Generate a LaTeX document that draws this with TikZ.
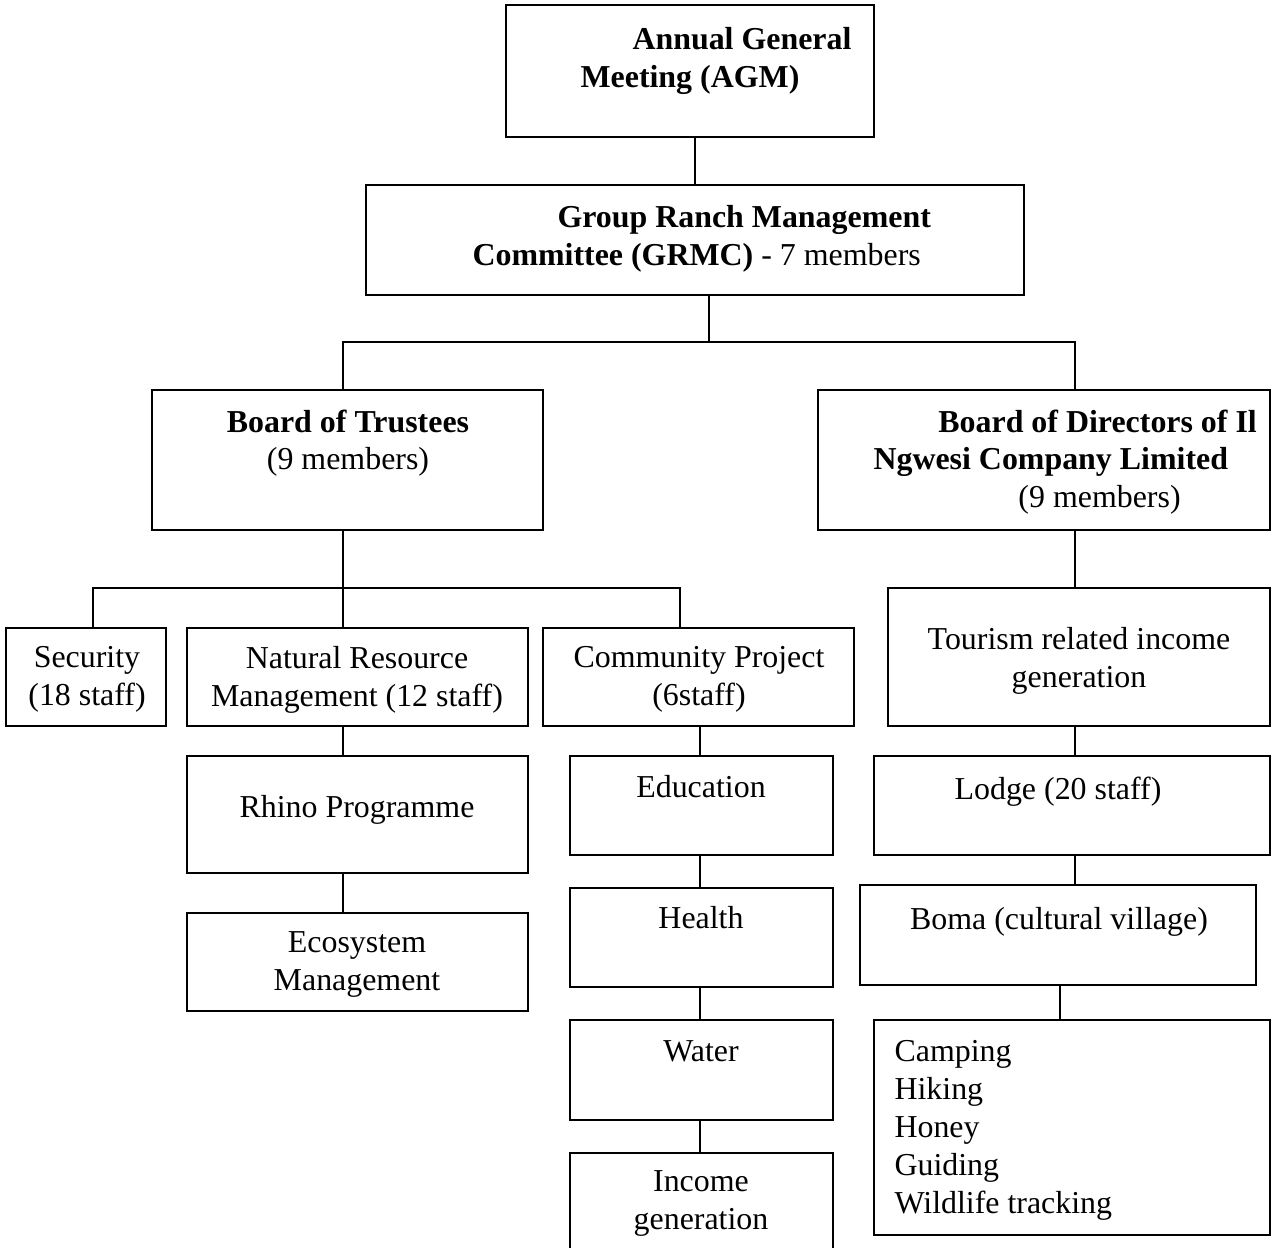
\documentclass[tikz,border=0pt]{standalone}
\usepackage{fontspec}
\setmainfont{Liberation Serif}

\begin{document}
\begin{tikzpicture}[x=0.3636pt,y=-0.3636pt,
  box/.style 2 args={draw,line width=0.8pt,inner sep=0pt,minimum width=#1*0.3636pt,minimum height=#2*0.3636pt},
  txt/.style={anchor=north,inner sep=0pt,align=center,font=\fontsize{11.6}{13.8}\selectfont},
  link/.style={line width=0.8pt}]
  \useasboundingbox (0,0) rectangle (1283,1247);
  % boxes
  \node[box={368}{132}] (agm) at (690,71) {};
  \node[box={658}{110}] (grmc) at (695,240) {};
  \node[box={391}{140}] (trust) at (347.5,460) {};
  \node[box={452}{140}] (direc) at (1044,460) {};
  \node[box={160}{98}] (sec) at (86,677) {};
  \node[box={341}{98}] (nrm) at (357.5,677) {};
  \node[box={311}{98}] (comm) at (698.5,677) {};
  \node[box={382}{138}] (tour) at (1079,657) {};
  \node[box={396}{99}] (lodge) at (1072,805.5) {};
  \node[box={396}{100}] (boma) at (1058,935) {};
  \node[box={396}{215}] (act) at (1072,1127.5) {};
  \node[box={341}{117}] (rhino) at (357.5,814.5) {};
  \node[box={341}{98}] (eco) at (357.5,962) {};
  \node[box={263}{99}] (edu) at (701.5,805.5) {};
  \node[box={263}{99}] (health) at (701.5,937.5) {};
  \node[box={263}{100}] (water) at (701.5,1070) {};
  \node[box={263}{137}] (inc) at (701.5,1221.5) {};
  % texts
  \node[txt,anchor=north west,align=left] (agmT) at (580,27) {\hspace*{18.9pt}\textbf{Annual General}\\\textbf{Meeting (AGM)}};
  \node[txt,anchor=north west,align=left] (grmcT) at (472,205) {\hspace*{30.9pt}\textbf{Group Ranch Management}\\\textbf{Committee (GRMC)} - 7 members};
  \node[txt] (trustT) at (348,409) {\textbf{Board of Trustees}\\(9 members)};
  \node[txt,anchor=north west,align=left] (direcT) at (873,409) {\hspace*{23.6pt}\textbf{Board of Directors of Il}\\\textbf{Ngwesi Company Limited}\\\hspace*{52.7pt}(9 members)};
  \node[txt] (secT) at (87,646) {Security\\(18 staff)};
  \node[txt] (nrmT) at (357,646) {Natural Resource\\Management (12 staff)};
  \node[txt] (commT) at (699,646) {Community Project\\(6staff)};
  \node[txt] (tourT) at (1079,627) {Tourism related income\\generation};
  \node[txt] (lodgeT) at (1058,776) {Lodge (20 staff)};
  \node[txt] (bomaT) at (1059,907) {Boma (cultural village)};
  \node[txt,anchor=north west,align=left] (actT) at (894,1040) {Camping\\Hiking\\Honey\\Guiding\\Wildlife tracking};
  \node[txt] (rhinoT) at (357,795) {Rhino Programme};
  \node[txt] (ecoT) at (357,931) {Ecosystem\\Management};
  \node[txt] (eduT) at (701,775) {Education};
  \node[txt] (healthT) at (701,906) {Health};
  \node[txt] (waterT) at (701,1040) {Water};
  \node[txt] (incT) at (701,1170) {Income\\generation};
  % connectors
  \coordinate (xa) at (695,0);
  \coordinate (s1) at (709,342);
  \coordinate (xt) at (343,0);
  \coordinate (xd) at (1075,0);
  \coordinate (s2) at (343,588);
  \coordinate (xs) at (93,0);
  \coordinate (xp) at (680,0);
  \coordinate (xc) at (700,0);
  \coordinate (xb) at (1060,0);
  \draw[link] (agm.south -| xa) -- (grmc.north -| xa);
  \draw[link] (grmc.south -| s1) -- (s1);
  \draw[link] (trust.north -| xt) |- (s1) -| (direc.north -| xd);
  \draw[link] (trust.south -| s2) -- (nrm.north -| s2);
  \draw[link] (sec.north -| xs) |- (s2) -| (comm.north -| xp);
  \draw[link] (nrm.south -| s2) -- (rhino.north -| s2);
  \draw[link] (rhino.south -| s2) -- (eco.north -| s2);
  \draw[link] (comm.south -| xc) -- (edu.north -| xc);
  \draw[link] (edu.south -| xc) -- (health.north -| xc);
  \draw[link] (health.south -| xc) -- (water.north -| xc);
  \draw[link] (water.south -| xc) -- (inc.north -| xc);
  \draw[link] (direc.south -| xd) -- (tour.north -| xd);
  \draw[link] (tour.south -| xd) -- (lodge.north -| xd);
  \draw[link] (lodge.south -| xd) -- (boma.north -| xd);
  \draw[link] (boma.south -| xb) -- (act.north -| xb);
\end{tikzpicture}
\end{document}
